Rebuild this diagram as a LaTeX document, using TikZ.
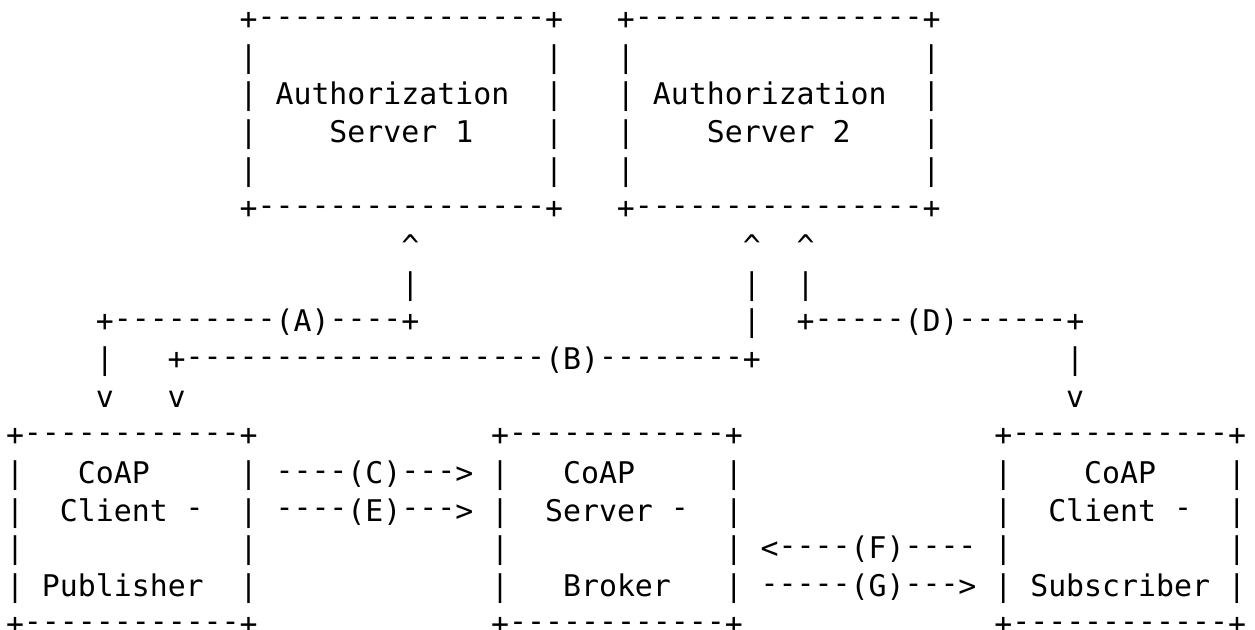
\documentclass[tikz,border=0pt]{standalone}
\usepackage{fontspec}
\setmonofont{DejaVu Sans Mono}
\tikzset{asc/.style={anchor=base west, inner sep=0pt, outer sep=0pt, text=black,
  font=\ttfamily\fontsize{14.93pt}{19pt}\selectfont}}
\newcommand\frag[4]{\node[asc] (#1) at ({3pt+#2*8.985pt},{-14.65pt-#3*18.915pt}) {#4};}
\newcommand\up{\textasciicircum}
\newcommand\hy{\raisebox{1.6pt}{-}}
\newcommand\dd[1]{\foreach\k in {1,...,#1}{\hy}}
\begin{document}
\begin{tikzpicture}
\useasboundingbox (0,0) rectangle (627.5pt,-314.5pt);
% Authorization Server 1
\frag{asAtop}{13}{0}{+\dd{16}+}
\frag{asAl1}{13}{1}{|}\frag{asAr1}{30}{1}{|}
\frag{asAl2}{13}{2}{|}\frag{asAt1}{15}{2}{Authorization}\frag{asAr2}{30}{2}{|}
\frag{asAl3}{13}{3}{|}\frag{asAt2}{18}{3}{Server 1}\frag{asAr3}{30}{3}{|}
\frag{asAl4}{13}{4}{|}\frag{asAr4}{30}{4}{|}
\frag{asAbot}{13}{5}{+\dd{16}+}
% Authorization Server 2
\frag{asBtop}{34}{0}{+\dd{16}+}
\frag{asBl1}{34}{1}{|}\frag{asBr1}{51}{1}{|}
\frag{asBl2}{34}{2}{|}\frag{asBt1}{36}{2}{Authorization}\frag{asBr2}{51}{2}{|}
\frag{asBl3}{34}{3}{|}\frag{asBt2}{39}{3}{Server 2}\frag{asBr3}{51}{3}{|}
\frag{asBl4}{34}{4}{|}\frag{asBr4}{51}{4}{|}
\frag{asBbot}{34}{5}{+\dd{16}+}
% connectors
\frag{upA}{22}{6}{\up}\frag{upB}{41}{6}{\up}\frag{upD}{44}{6}{\up}
\frag{vA}{22}{7}{|}\frag{vB1}{41}{7}{|}\frag{vD}{44}{7}{|}
\frag{lineA}{5}{8}{+\dd{9}(A)\dd{4}+}
\frag{vB2}{41}{8}{|}
\frag{lineD}{44}{8}{+\dd{5}(D)\dd{6}+}
\frag{vA2}{5}{9}{|}
\frag{lineB}{9}{9}{+\dd{20}(B)\dd{8}+}
\frag{vD2}{59}{9}{|}
\frag{dnA}{5}{10}{v}\frag{dnB}{9}{10}{v}\frag{dnD}{59}{10}{v}
% Publisher
\frag{pubtop}{0}{11}{+\dd{12}+}
\frag{publ1}{0}{12}{|}\frag{pubt1}{4}{12}{CoAP}\frag{pubr1}{13}{12}{|}
\frag{publ2}{0}{13}{|}\frag{pubt2}{3}{13}{Client \hy}\frag{pubr2}{13}{13}{|}
\frag{publ3}{0}{14}{|}\frag{pubr3}{13}{14}{|}
\frag{publ4}{0}{15}{|}\frag{pubt3}{2}{15}{Publisher}\frag{pubr4}{13}{15}{|}
\frag{pubbot}{0}{16}{+\dd{12}+}
% Broker
\frag{brotop}{27}{11}{+\dd{12}+}
\frag{brol1}{27}{12}{|}\frag{brot1}{31}{12}{CoAP}\frag{bror1}{40}{12}{|}
\frag{brol2}{27}{13}{|}\frag{brot2}{30}{13}{Server \hy}\frag{bror2}{40}{13}{|}
\frag{brol3}{27}{14}{|}\frag{bror3}{40}{14}{|}
\frag{brol4}{27}{15}{|}\frag{brot3}{31}{15}{Broker}\frag{bror4}{40}{15}{|}
\frag{brobot}{27}{16}{+\dd{12}+}
% Subscriber
\frag{subtop}{55}{11}{+\dd{12}+}
\frag{subl1}{55}{12}{|}\frag{subt1}{60}{12}{CoAP}\frag{subr1}{68}{12}{|}
\frag{subl2}{55}{13}{|}\frag{subt2}{58}{13}{Client \hy}\frag{subr2}{68}{13}{|}
\frag{subl3}{55}{14}{|}\frag{subr3}{68}{14}{|}
\frag{subl4}{55}{15}{|}\frag{subt3}{57}{15}{Subscriber}\frag{subr4}{68}{15}{|}
\frag{subbot}{55}{16}{+\dd{12}+}
% messages
\frag{msgC}{15}{12}{\dd{4}(C)\dd{3}>}
\frag{msgE}{15}{13}{\dd{4}(E)\dd{3}>}
\frag{msgF}{42}{14}{<\dd{4}(F)\dd{4}}
\frag{msgG}{42}{15}{\dd{5}(G)\dd{3}>}
\end{tikzpicture}
\end{document}
